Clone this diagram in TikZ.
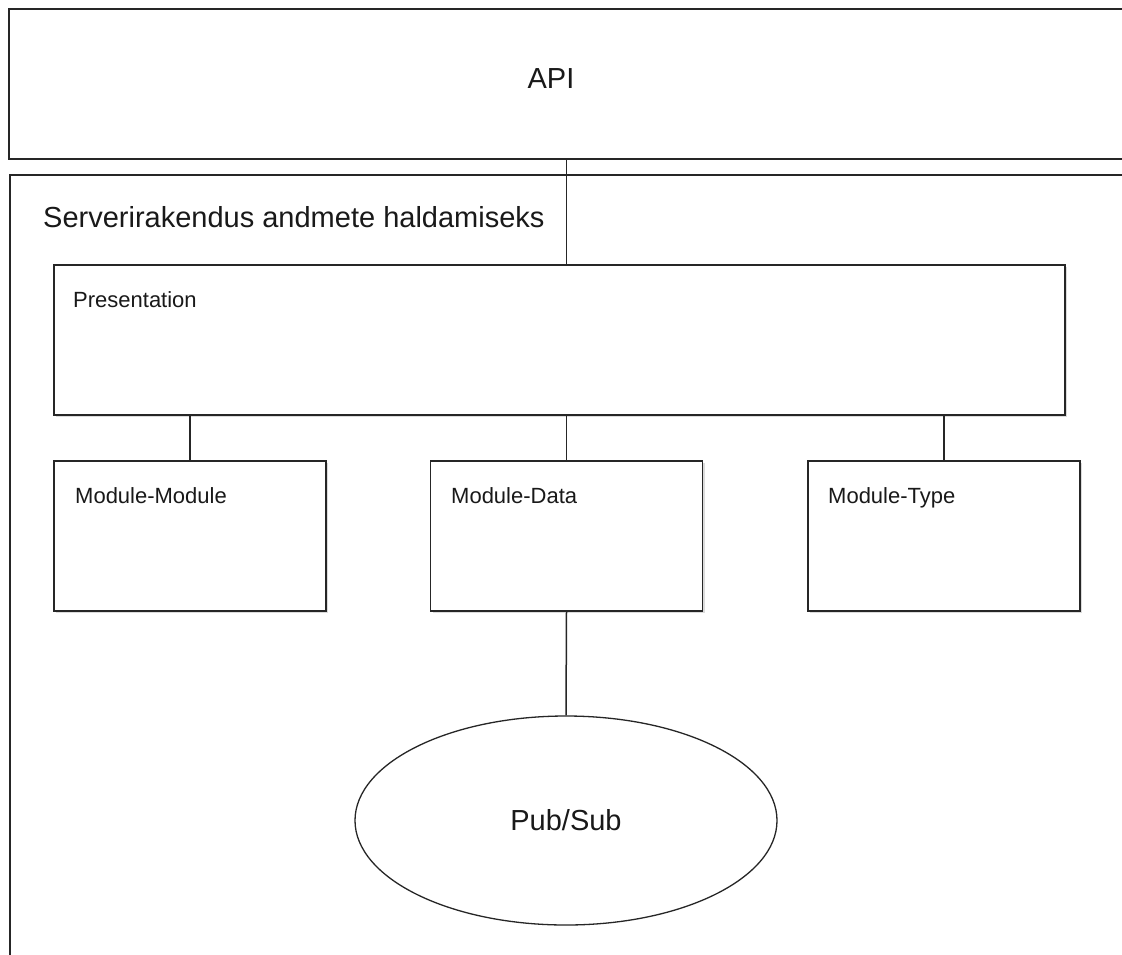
\documentclass[tikz,border=0pt]{standalone}
\usepackage{fontspec}
\setmainfont{Liberation Sans}
\usetikzlibrary{shapes.geometric,shadows}
\tikzset{
  frame/.style={draw=black!85, line width=1.5pt, rectangle, inner sep=0pt},
  block/.style={frame, fill=white, minimum width=272pt, minimum height=150pt,
    drop shadow={shadow xshift=2pt, shadow yshift=-2pt, opacity=0.35, fill=black!40}},
  link/.style={draw=black!85, line width=1.5pt},
  big/.style={font=\fontsize{29}{34}\selectfont, text=black!90, inner sep=0pt},
  small/.style={font=\fontsize{22}{26}\selectfont, text=black!90, inner sep=0pt, anchor=base west},
}
\begin{document}
\begin{tikzpicture}[x=1pt, y=-1pt]
\useasboundingbox (0,0) rectangle (1122,954);
\fill[white] (0,0) rectangle (1122,954);
\clip (0,0) rectangle (1122,954);

% outer frames, running past the right and lower edges
\node[frame, minimum width=1141pt, minimum height=150pt] (api) at (579.5,84) {};
\node[frame, minimum width=1141pt, minimum height=830pt, anchor=north west] (srv) at (9,174) {};
\node[big, anchor=base] (apilbl) at (551,88) {API};
\node[big, anchor=base west] (srvlbl) at (43,227) {Serverirakendus andmete haldamiseks};

% layers
\node[block, minimum width=1011pt] (pres) at (559.5,340) {};
\node[block] (mm) at (190,536) {};
\node[block] (md) at (566.5,536) {};
\node[block] (mt) at (944,536) {};
\node[small] (preslbl) at (73,307) {Presentation};
\node[small] (mmlbl) at (75,503) {Module-Module};
\node[small] (mdlbl) at (451,503) {Module-Data};
\node[small] (mtlbl) at (828,503) {Module-Type};

\node[ellipse, draw=black!85, line width=1.3pt, fill=white, minimum width=422pt,
      minimum height=209pt, inner sep=0pt, big] (ps) at (566,820.5) {Pub/Sub};

% connectors
\draw[link] (md.north |- api.south) -- (md.north |- pres.north);
\draw[link] (mm.north |- pres.south) -- (mm.north);
\draw[link] (md.north |- pres.south) -- (md.north);
\draw[link] (mt.north |- pres.south) -- (mt.north);
\draw[link] (md.south) -- (ps.north);
\end{tikzpicture}
\end{document}
